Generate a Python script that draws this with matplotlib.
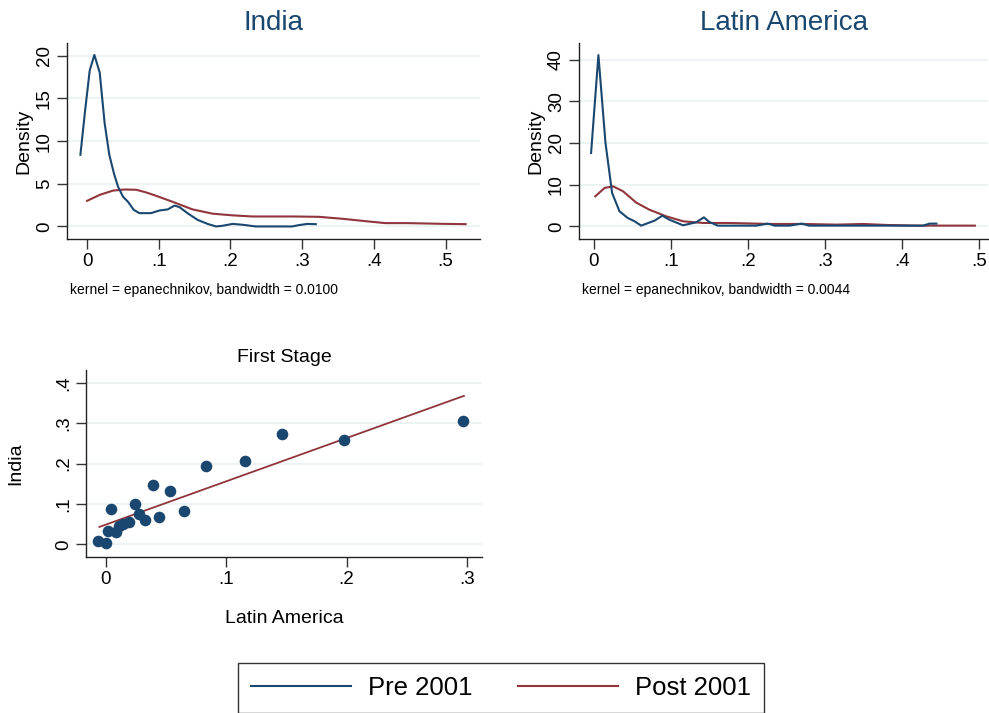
#Kernel densities and first stage scatter, India vs Latin America
import matplotlib.pyplot as plt
import matplotlib.ticker as mtick
from matplotlib.lines import Line2D
import numpy as np

plt.rcParams['font.family'] = ['Liberation Sans', 'DejaVu Sans']

# --- data ---
india_pre_x = [-0.0093, -0.003, 0.0037, 0.0102, 0.0176, 0.0245, 0.031, 0.0375, 0.043, 0.05,
               0.057, 0.065, 0.073, 0.089, 0.101, 0.1125, 0.122, 0.129, 0.140, 0.154,
               0.168, 0.18, 0.189, 0.203, 0.217, 0.235, 0.286, 0.295, 0.307, 0.319]
india_pre_y = [8.4, 13.4, 18.3, 20.1, 18.05, 12.1, 8.4, 6.2, 4.7, 3.5,
               2.9, 1.95, 1.56, 1.56, 1.87, 2.0, 2.45, 2.26, 1.56, 0.78,
               0.3, 0.0, 0.08, 0.3, 0.2, 0.0, 0.0, 0.15, 0.3, 0.27]
india_post_x = [0.0, 0.0176, 0.036, 0.052, 0.0685, 0.082, 0.096, 0.119, 0.147, 0.175,
                0.203, 0.23, 0.286, 0.323, 0.356, 0.393, 0.416, 0.448, 0.494, 0.528]
india_post_y = [3.0, 3.7, 4.2, 4.33, 4.3, 4.0, 3.6, 2.9, 2.0, 1.5,
                1.3, 1.17, 1.17, 1.13, 0.9, 0.58, 0.39, 0.39, 0.31, 0.27]

latam_pre_x = [-0.0035, 0.006, 0.0152, 0.0238, 0.0334, 0.044, 0.053, 0.0615, 0.079, 0.089,
               0.098, 0.116, 0.133, 0.143, 0.150, 0.161, 0.211, 0.226, 0.235, 0.254,
               0.27, 0.28, 0.428, 0.436, 0.445]
latam_pre_y = [17.6, 41.1, 20.0, 8.0, 3.6, 2.0, 1.2, 0.16, 1.36, 2.55,
               1.6, 0.24, 0.96, 2.15, 1.04, 0.16, 0.16, 0.64, 0.16, 0.16,
               0.64, 0.16, 0.16, 0.64, 0.64]
latam_post_x = [0.002, 0.014, 0.025, 0.038, 0.055, 0.072, 0.094, 0.116, 0.142, 0.176,
                0.211, 0.228, 0.272, 0.315, 0.35, 0.38, 0.419, 0.495]
latam_post_y = [7.2, 9.2, 9.6, 8.4, 5.7, 4.0, 2.4, 1.2, 0.8, 0.8,
                0.64, 0.56, 0.56, 0.4, 0.56, 0.32, 0.16, 0.16]

fs_latam = [-0.0061, 0.0003, 0.0022, 0.0042, 0.0083, 0.011, 0.0147, 0.0197, 0.0246, 0.028,
            0.033, 0.039, 0.044, 0.053, 0.0653, 0.0836, 0.116, 0.1467, 0.198, 0.297]
fs_india = [0.0074, 0.0025, 0.032, 0.088, 0.031, 0.045, 0.051, 0.056, 0.1008, 0.076,
            0.061, 0.147, 0.0686, 0.131, 0.0826, 0.195, 0.207, 0.274, 0.258, 0.305]
fit_intercept = 0.0487
fit_slope = 1.073
fit_range = [-0.0053, 0.2975]

bandwidths = {'India': '0.0100', 'Latin America': '0.0044'}

navy = '#1a476f'
maroon = '#90353b'
grid_c = '#eaf2f3'

W, H = 989, 713
fig = plt.figure(figsize=(W / 100, H / 100), dpi=100)


def px_axes(l, t, r, b):
    return fig.add_axes([l / W, 1 - b / H, (r - l) / W, (b - t) / H])


def stata_style(ax, yticks):
    for s in ['top', 'right']:
        ax.spines[s].set_visible(False)
    for s in ['left', 'bottom']:
        ax.spines[s].set_linewidth(1.0)
        ax.spines[s].set_color('#222222')
    ax.set_yticks(yticks)
    ax.tick_params(axis='both', direction='out', length=7, width=1.0,
                   labelsize=13.5, color='#333333', pad=3)
    ax.tick_params(axis='y', labelrotation=90)
    for lab in ax.get_yticklabels():
        lab.set_va('center')
    ax.grid(True, axis='y', color=grid_c, linewidth=1.3, zorder=0)
    ax.set_axisbelow(True)


def dec_fmt(v, pos):
    if abs(v) < 1e-9:
        return '0'
    s = ('%.1f' % v)
    return s.lstrip('0')


# India density
ax1 = px_axes(67, 43, 480, 239)
ax1.plot(india_pre_x, india_pre_y, color=navy, lw=1.5, zorder=3)
ax1.plot(india_post_x, india_post_y, color=maroon, lw=1.5, zorder=2)
ax1.set_xlim(-0.028, 0.548)
ax1.set_ylim(-1.47, 21.5)
ax1.set_xticks([0, 0.1, 0.2, 0.3, 0.4, 0.5])
ax1.xaxis.set_major_formatter(mtick.FuncFormatter(dec_fmt))
stata_style(ax1, [0, 5, 10, 15, 20])
ax1.set_ylabel('Density', fontsize=14, labelpad=3)
ax1.set_title('India', fontsize=20, color=navy, pad=9)
ax1.text(0.008, -0.28, 'kernel = epanechnikov, bandwidth = ' + bandwidths['India'],
         transform=ax1.transAxes, fontsize=10)

# Latin America density
ax2 = px_axes(579, 43, 988, 239)
ax2.plot(latam_pre_x, latam_pre_y, color=navy, lw=1.5, zorder=3)
ax2.plot(latam_post_x, latam_post_y, color=maroon, lw=1.5, zorder=2)
ax2.set_xlim(-0.0192, 0.512)
ax2.set_ylim(-3.05, 44)
ax2.set_xticks([0, 0.1, 0.2, 0.3, 0.4, 0.5])
ax2.xaxis.set_major_formatter(mtick.FuncFormatter(dec_fmt))
stata_style(ax2, [0, 10, 20, 30, 40])
ax2.set_ylabel('Density', fontsize=14, labelpad=3)
ax2.set_title('Latin America', fontsize=20, color=navy, pad=9)
ax2.text(0.008, -0.28, 'kernel = epanechnikov, bandwidth = ' + bandwidths['Latin America'],
         transform=ax2.transAxes, fontsize=10)

# First stage scatter
ax3 = px_axes(86, 370, 482, 557)
ax3.scatter(fs_latam, fs_india, s=70, color=navy, zorder=3, linewidths=0)
fx = np.array(fit_range)
ax3.plot(fx, fit_intercept + fit_slope * fx, color=maroon, lw=1.3, zorder=2)
ax3.set_xlim(-0.0164, 0.3125)
ax3.set_ylim(-0.0315, 0.432)
ax3.set_xticks([0, 0.1, 0.2, 0.3])
ax3.xaxis.set_major_formatter(mtick.FuncFormatter(dec_fmt))
stata_style(ax3, [0, 0.1, 0.2, 0.3, 0.4])
ax3.yaxis.set_major_formatter(mtick.FuncFormatter(dec_fmt))
ax3.set_ylabel('India', fontsize=14, labelpad=22)
ax3.set_xlabel('Latin America', fontsize=14, labelpad=16)
ax3.set_title('First Stage', fontsize=14, color='black', pad=6)

# legend
handles = [Line2D([], [], color=navy, lw=1.5), Line2D([], [], color=maroon, lw=1.5)]
leg = fig.legend(handles, ['Pre 2001', 'Post 2001'], loc='center',
                 bbox_to_anchor=(501 / W, 1 - 688 / H), ncol=2, fontsize=18.5,
                 frameon=True, fancybox=False, handlelength=3.9, handletextpad=0.66,
                 columnspacing=1.75, borderpad=0.5, borderaxespad=0)
leg.get_frame().set_edgecolor('black')
leg.get_frame().set_linewidth(1.0)

fig.savefig('out.png', dpi=100, facecolor='white')
